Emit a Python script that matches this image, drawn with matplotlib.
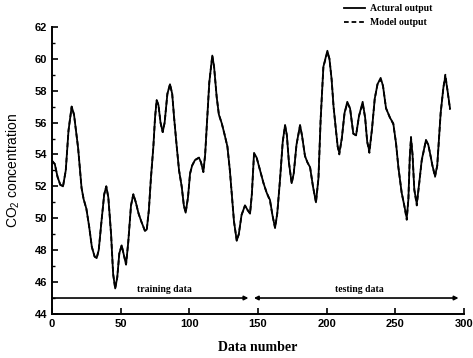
import matplotlib
matplotlib.use("Agg")
import matplotlib.pyplot as plt
from matplotlib.ticker import MultipleLocator

data_number = [0, 2, 4, 6, 8, 10, 12, 14.3, 16, 19, 21.5, 23, 25, 27, 29, 31, 32.5, 34, 36, 38,
               39.5, 41, 43, 44.5, 46, 47.5, 49, 50.7, 52, 53.9, 55.5, 57.5, 59.2, 61, 63, 65,
               67.7, 69, 70.5, 72, 73.8, 75, 76.2, 77.5, 79, 80.6, 82, 84, 85.9, 87.5, 89, 90.8,
               92.5, 94.4, 96, 97.3, 99, 100.5, 102, 104.1, 107, 108.5, 110.2, 111.5, 113, 114.5,
               116.7, 118, 119.9, 121.5, 123.6, 125.5, 127.7, 129.5, 130.8, 132.5, 134.5, 136,
               138, 140.5, 142.5, 144.2, 145.5, 147.1, 149, 151.5, 154, 156.3, 158.7, 160.5,
               162.4, 164, 166, 168, 169.7, 171, 172.5, 174.5, 176, 178, 180.6, 182, 184.2, 186,
               187.9, 190, 192.2, 194, 195.6, 197.6, 200.5, 202, 203.6, 205, 206.5, 208, 209.2,
               211, 213, 215, 217, 219.4, 221.4, 223.5, 226.2, 228, 229.5, 231.1, 233, 235, 237,
               239.3, 241, 243.2, 246.1, 248.5, 250.5, 252.2, 254.6, 256.5, 258.3, 259.5, 260.5,
               261.4, 262.5, 263.8, 265.6, 267.5, 269.2, 272.3, 274, 275.2, 277, 278.9, 280.5,
               283, 285, 286.4, 288, 289.8]

actual_output = [53.6, 53.4, 52.6, 52.1, 52.0, 53.0, 55.5, 57.0, 56.5, 54.4, 51.9, 51.2, 50.6, 49.5,
                 48.2, 47.6, 47.5, 48.0, 49.8, 51.5, 52.0, 51.3, 49.0, 46.5, 45.6, 46.3, 47.8, 48.3,
                 47.8, 47.1, 48.5, 50.8, 51.5, 51.0, 50.3, 49.8, 49.2, 49.3, 50.5, 52.5, 54.5, 56.3,
                 57.4, 57.1, 56.0, 55.4, 56.0, 57.8, 58.4, 57.8, 56.2, 54.5, 53.0, 52.0, 50.8, 50.35,
                 51.3, 52.8, 53.3, 53.65, 53.8, 53.5, 52.9, 54.0, 56.3, 58.5, 60.2, 59.5, 57.6, 56.5,
                 55.95, 55.3, 54.5, 53.0, 51.6, 49.8, 48.6, 49.0, 50.2, 50.8, 50.5, 50.3, 51.5, 54.1,
                 53.8, 53.0, 52.2, 51.6, 51.15, 50.2, 49.4, 50.3, 52.4, 54.8, 55.85, 55.2, 53.5, 52.2,
                 52.8, 54.6, 55.85, 55.2, 53.9, 53.5, 53.2, 52.0, 51.0, 52.5, 56.2, 59.5, 60.5, 60.0,
                 58.7, 57.0, 55.75, 54.5, 54.1, 55.0, 56.6, 57.3, 56.9, 55.3, 55.2, 56.4, 57.3, 56.3,
                 54.8, 54.2, 55.6, 57.5, 58.4, 58.8, 58.3, 56.9, 56.3, 55.95, 54.7, 53.2, 51.6, 50.8,
                 50.0, 51.2, 53.8, 55.0, 54.0, 51.8, 50.9, 52.3, 53.65, 54.9, 54.6, 54.1, 53.3, 52.65,
                 53.3, 56.6, 58.2, 58.9, 58.0, 56.9]

model_output = [53.6, 53.4, 52.6, 52.1, 52.0, 53.0, 55.5, 57.0, 56.5, 54.4, 51.9, 51.2, 50.6, 49.5,
                 48.2, 47.6, 47.5, 48.0, 49.8, 51.5, 52.0, 51.3, 49.0, 46.5, 45.6, 46.3, 47.8, 48.3,
                 47.8, 47.1, 48.5, 50.8, 51.5, 51.0, 50.3, 49.8, 49.2, 49.3, 50.5, 52.5, 54.5, 56.3,
                 57.4, 57.1, 56.0, 55.4, 56.0, 57.8, 58.4, 57.8, 56.2, 54.5, 53.0, 52.0, 50.8, 50.35,
                 51.3, 52.8, 53.3, 53.65, 53.8, 53.5, 52.9, 54.0, 56.3, 58.5, 60.2, 59.5, 57.6, 56.5,
                 55.95, 55.3, 54.5, 53.0, 51.6, 49.8, 48.6, 49.0, 50.2, 50.8, 50.5, 50.3, 51.5, 54.0,
                 53.8, 53.0, 52.2, 51.6, 51.1, 50.2, 49.4, 50.3, 52.4, 54.8, 55.8, 55.2, 53.5, 52.2,
                 52.8, 54.6, 55.8, 55.2, 53.9, 53.5, 53.2, 52.0, 51.0, 52.5, 56.2, 59.5, 60.4, 60.0,
                 58.7, 57.0, 55.7, 54.5, 54.0, 55.0, 56.6, 57.2, 56.9, 55.3, 55.2, 56.4, 57.2, 56.3,
                 54.8, 54.1, 55.6, 57.5, 58.4, 58.7, 58.3, 56.9, 56.3, 55.9, 54.7, 53.2, 51.6, 50.8,
                 49.9, 51.2, 53.8, 55.1, 54.0, 51.8, 50.8, 52.3, 53.6, 54.9, 54.6, 54.1, 53.3, 52.6,
                 53.3, 56.6, 58.2, 59.0, 58.0, 56.8]

x_ticks = [0, 50, 100, 150, 200, 250, 300]
y_ticks = [44, 46, 48, 50, 52, 54, 56, 58, 60, 62]
train_range = [0, 143]
test_range = [147, 296]

plt.rcParams['font.family'] = ['Liberation Sans', 'DejaVu Sans']

fig = plt.figure(figsize=(4.73, 3.58), dpi=100)
ax = fig.add_axes([0.110, 0.123, 0.871, 0.802])

ax.plot(data_number, actual_output, color='black', lw=1.3, ls='-', label='Actural output')
ax.plot(data_number, model_output, color='black', lw=1.3, ls=(0, (2.6, 1.6)), label='Model output')

ax.set_xlim(0, 300)
ax.set_ylim(44, 62)
ax.set_xticks(x_ticks)
ax.set_yticks(y_ticks)
ax.yaxis.set_minor_locator(MultipleLocator(1))
ax.spines['top'].set_visible(False)
ax.spines['right'].set_visible(False)
for s in ['left', 'bottom']:
    ax.spines[s].set_linewidth(1.4)
ax.tick_params(direction='in', which='major', length=4, width=1.2, labelsize=8)
ax.tick_params(direction='in', which='minor', length=2.5, width=1.0)
for lab in ax.get_xticklabels() + ax.get_yticklabels():
    lab.set_fontweight('bold')

ax.set_xlabel('Data number', family='Liberation Serif', fontsize=10, fontweight='bold', labelpad=9)
ax.set_ylabel('CO$_\\mathregular{2}$ concentration', fontsize=10, labelpad=9)

# training / testing arrows
ax.annotate('', xy=(train_range[1], 45), xytext=(train_range[0], 45),
            arrowprops=dict(arrowstyle='-|>', color='black', lw=1.2, mutation_scale=6,
                            shrinkA=0, shrinkB=0))
ax.annotate('', xy=(test_range[1], 45), xytext=(test_range[0], 45),
            arrowprops=dict(arrowstyle='<|-|>', color='black', lw=1.2, mutation_scale=6,
                            shrinkA=0, shrinkB=0))
ax.text(82, 45.25, 'training data', family='Liberation Serif', fontsize=7, fontweight='bold',
        ha='center', va='bottom')
ax.text(224, 45.25, 'testing data', family='Liberation Serif', fontsize=7, fontweight='bold',
        ha='center', va='bottom')

fig.legend(loc='upper left', bbox_to_anchor=(0.712, 1.008), frameon=False,
           prop={'family': 'Liberation Serif', 'size': 7, 'weight': 'bold'},
           handlelength=2.2, handletextpad=0.5, labelspacing=0.55, borderpad=0.2)

fig.savefig('out.png', dpi=100)
